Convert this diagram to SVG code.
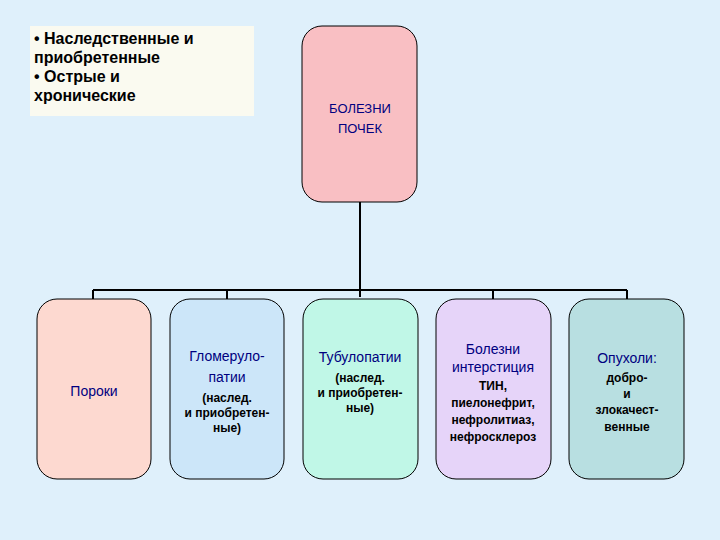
<svg xmlns="http://www.w3.org/2000/svg" width="720" height="540" viewBox="0 0 720 540">
<style>
.b{stroke:#000;stroke-width:1}
.c{stroke:#000;stroke-width:2;fill:none}
.t{font-family:"Liberation Sans",Arial,sans-serif;text-anchor:middle;fill:#000080}
.s{font-family:"Liberation Sans",Arial,sans-serif;text-anchor:middle;fill:#000;font-weight:bold;font-size:12px}
</style>
<rect width="720" height="540" fill="#dff0fb"/>
<g id="note">
<rect x="30" y="26" width="224" height="90" fill="#fafaf0"/>
<text font-family="Liberation Sans,Arial,sans-serif" font-size="16" font-weight="bold" fill="#000">
<tspan x="34" y="44">• Наследственные и</tspan>
<tspan x="34" y="63">приобретенные</tspan>
<tspan x="34" y="82">• Острые и</tspan>
<tspan x="34" y="101">хронические</tspan>
</text>
</g>
<g id="connectors">
<path class="c" d="M360 202V297M93 290H627M93 290V299M227 290V299M493 290V299M627 290V299"/>
</g>
<g id="root">
<rect class="b" x="302" y="26" width="115" height="176" rx="20" fill="#f9bfc3"/>
<text class="t" font-size="13"><tspan x="360" y="113">БОЛЕЗНИ</tspan><tspan x="360" y="133">ПОЧЕК</tspan></text>
</g>
<g id="n1">
<rect class="b" x="37" y="299" width="114" height="180" rx="20" fill="#fdd9d0"/>
<text class="t" font-size="14" x="94" y="396">Пороки</text>
</g>
<g id="n2">
<rect class="b" x="170" y="299" width="114" height="180" rx="20" fill="#cce6f9"/>
<text class="t" font-size="14"><tspan x="227" y="361">Гломеруло-</tspan><tspan x="227" y="382">патии</tspan></text>
<text class="s"><tspan x="227" y="402">(наслед.</tspan><tspan x="227" y="417">и приобретен-</tspan><tspan x="227" y="432">ные)</tspan></text>
</g>
<g id="n3">
<rect class="b" x="303" y="299" width="115" height="180" rx="20" fill="#c0f7e7"/>
<text class="t" font-size="14" x="360" y="362">Тубулопатии</text>
<text class="s"><tspan x="360" y="382">(наслед.</tspan><tspan x="360" y="397">и приобретен-</tspan><tspan x="360" y="412">ные)</tspan></text>
</g>
<g id="n4">
<rect class="b" x="436" y="299" width="115" height="180" rx="20" fill="#e6d4f9"/>
<text class="t" font-size="14"><tspan x="493" y="354">Болезни</tspan><tspan x="493" y="372">интерстиция</tspan></text>
<text class="s"><tspan x="493" y="390">ТИН,</tspan><tspan x="493" y="407">пиелонефрит,</tspan><tspan x="493" y="424">нефролитиаз,</tspan><tspan x="493" y="441">нефросклероз</tspan></text>
</g>
<g id="n5">
<rect class="b" x="569" y="299" width="115" height="180" rx="20" fill="#b8dfe1"/>
<text class="t" font-size="14" x="627" y="363">Опухоли:</text>
<text class="s"><tspan x="627" y="382">добро-</tspan><tspan x="627" y="398">и</tspan><tspan x="627" y="414">злокачест-</tspan><tspan x="627" y="431">венные</tspan></text>
</g>
</svg>
